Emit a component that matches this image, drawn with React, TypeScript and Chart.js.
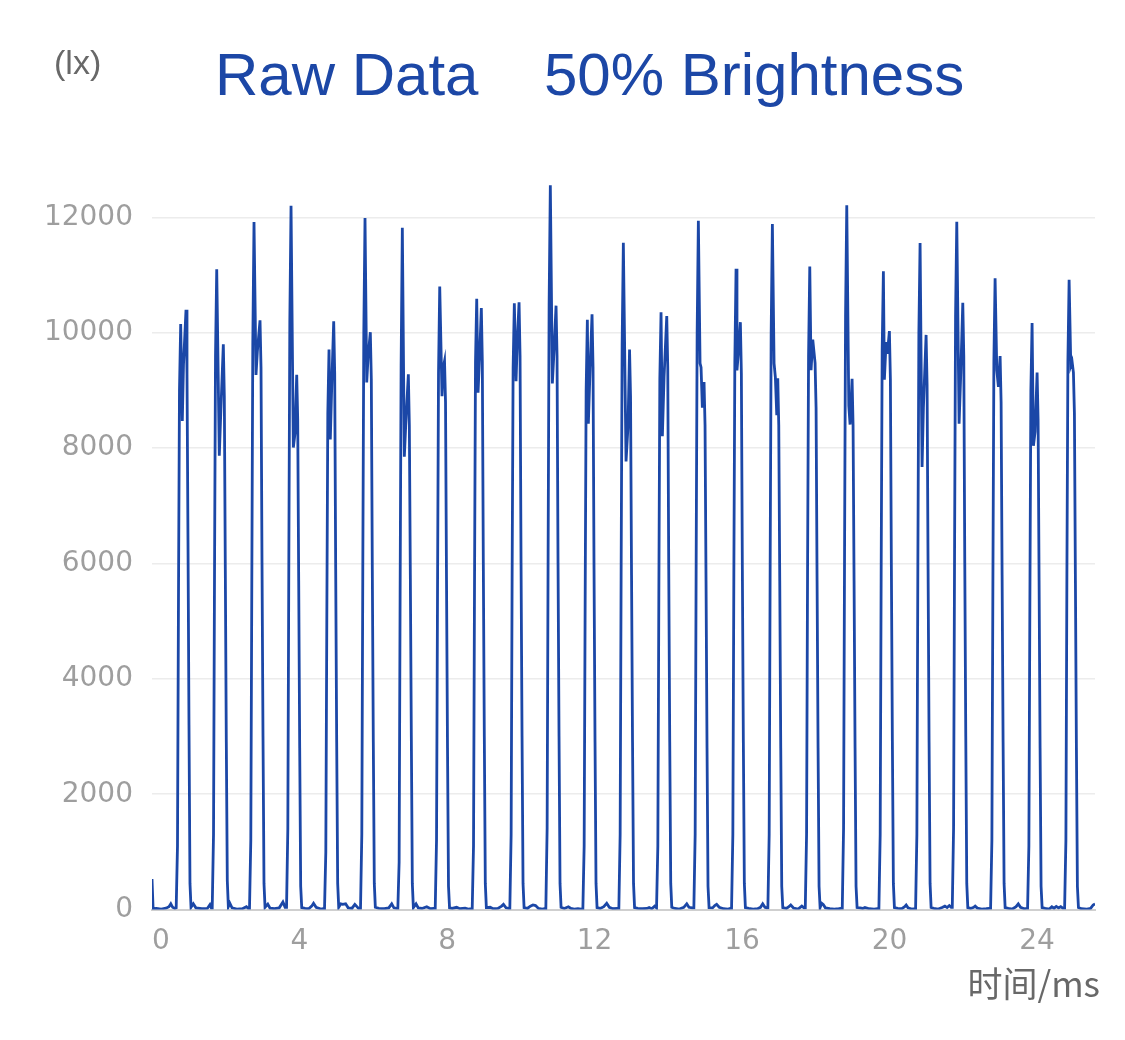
import { useEffect, useRef } from 'react';
import { Chart, registerables } from 'chart.js';

Chart.register(...registerables);

// ---- text ----
const titleLeft = 'Raw Data';
const titleRight = '50% Brightness';
const yAxisName = '(lx)';
const xAxisName = '时间/ms';

// ---- axis ticks ----
const xTickValues = [0, 4, 8, 12, 16, 20, 24];
const xMax = 25.57;
const yTickValues = [0, 2000, 4000, 6000, 8000, 10000, 12000];
const yMax = 12600;

// ---- series: time (ms) and illuminance (lx), one line per segment ----
const timeMs = [
  0, 0.03, 0.12, 0.25, 0.38, 0.46, 0.51, 0.56, 0.62,
  0.656, 0.691, 0.718, 0.745, 0.778, 0.822, 0.854, 0.922, 0.949, 0.976, 1.003, 1.030, 1.058,
  1.12, 1.19, 1.35, 1.5, 1.57, 1.61,
  1.633, 1.668, 1.695, 1.722, 1.755, 1.825, 1.863, 1.934, 1.961, 1.988, 2.015, 2.042, 2.070,
  2.11, 2.17, 2.3, 2.45, 2.56, 2.61,
  2.644, 2.679, 2.706, 2.733, 2.766, 2.820, 2.856, 2.929, 2.956, 2.983, 3.010, 3.037, 3.065,
  3.14, 3.2, 3.32, 3.45, 3.55, 3.61,
  3.648, 3.683, 3.710, 3.737, 3.770, 3.832, 3.878, 3.924, 3.951, 3.978, 4.005, 4.032, 4.060,
  4.15, 4.25, 4.33, 4.38, 4.45, 4.58, 4.64,
  4.678, 4.713, 4.740, 4.767, 4.800, 4.835, 4.873, 4.927, 4.954, 4.981, 5.008, 5.035, 5.063,
  5.12, 5.17, 5.25, 5.32, 5.42, 5.5, 5.6,
  5.654, 5.689, 5.716, 5.743, 5.776, 5.822, 5.858, 5.920, 5.947, 5.974, 6.001, 6.028, 6.056,
  6.15, 6.3, 6.42, 6.5, 6.56, 6.63,
  6.666, 6.701, 6.728, 6.755, 6.788, 6.842, 6.880, 6.951, 6.978, 7.005, 7.032, 7.059, 7.087,
  7.16, 7.22, 7.32, 7.45, 7.55, 7.64,
  7.680, 7.715, 7.742, 7.769, 7.802, 7.864, 7.897, 7.932, 7.959, 7.986, 8.013, 8.040, 8.068,
  8.14, 8.26, 8.35, 8.49, 8.58, 8.65,
  8.683, 8.718, 8.745, 8.772, 8.805, 8.841, 8.887, 8.930, 8.957, 8.984, 9.011, 9.038, 9.066,
  9.17, 9.25, 9.38, 9.48, 9.53, 9.6, 9.67,
  9.703, 9.738, 9.765, 9.792, 9.825, 9.871, 9.906, 9.953, 9.980, 10.007, 10.034, 10.061, 10.089,
  10.18, 10.26, 10.33, 10.4, 10.48, 10.58, 10.64,
  10.679, 10.714, 10.741, 10.768, 10.801, 10.856, 10.902, 10.956, 10.983, 11.010, 11.037, 11.064, 11.092,
  11.18, 11.29, 11.36, 11.45, 11.55, 11.64,
  11.683, 11.718, 11.745, 11.772, 11.805, 11.832, 11.878, 11.932, 11.959, 11.986, 12.013, 12.040, 12.068,
  12.15, 12.25, 12.33, 12.4, 12.5, 12.62,
  12.659, 12.694, 12.721, 12.748, 12.781, 12.854, 12.908, 12.949, 12.976, 13.003, 13.030, 13.057, 13.085,
  13.17, 13.3, 13.42, 13.48, 13.55, 13.63,
  13.681, 13.716, 13.743, 13.770, 13.803, 13.839, 13.885, 13.958, 13.985, 14.012, 14.039, 14.066, 14.094,
  14.18, 14.3, 14.42, 14.5, 14.56, 14.65,
  14.693, 14.728, 14.755, 14.782, 14.815, 14.861, 14.888, 14.923, 14.969, 14.996, 15.023, 15.050, 15.077, 15.105,
  15.2, 15.26, 15.31, 15.38, 15.5, 15.62, 15.68,
  15.715, 15.750, 15.777, 15.804, 15.837, 15.862, 15.905, 15.954, 15.981, 16.008, 16.035, 16.062, 16.090,
  16.18, 16.3, 16.42, 16.5, 16.56, 16.62, 16.67,
  16.700, 16.735, 16.762, 16.789, 16.822, 16.868, 16.903, 16.941, 16.968, 16.995, 17.022, 17.049, 17.076, 17.104,
  17.2, 17.27, 17.32, 17.4, 17.52, 17.62, 17.68,
  17.714, 17.749, 17.776, 17.803, 17.836, 17.871, 17.917, 17.980, 18.007, 18.034, 18.061, 18.088, 18.116,
  18.16, 18.2, 18.26, 18.38, 18.5, 18.62, 18.68,
  18.717, 18.752, 18.779, 18.806, 18.839, 18.894, 18.929, 18.983, 19.010, 19.037, 19.064, 19.091, 19.119,
  19.2, 19.27, 19.33, 19.45, 19.58, 19.67,
  19.710, 19.745, 19.772, 19.799, 19.832, 19.859, 19.905, 19.940, 19.995, 20.022, 20.049, 20.076, 20.103, 20.131,
  20.22, 20.33, 20.41, 20.45, 20.5, 20.6, 20.67,
  20.705, 20.740, 20.767, 20.794, 20.827, 20.881, 20.917, 20.990, 21.017, 21.044, 21.071, 21.098, 21.126,
  21.2, 21.32, 21.44, 21.5, 21.56, 21.62, 21.67,
  21.700, 21.735, 21.762, 21.789, 21.822, 21.885, 21.931, 21.985, 22.012, 22.039, 22.066, 22.093, 22.121,
  22.2, 22.28, 22.32, 22.38, 22.5, 22.62, 22.7,
  22.739, 22.774, 22.801, 22.828, 22.861, 22.907, 22.951, 22.997, 23.024, 23.051, 23.078, 23.105, 23.133,
  23.22, 23.33, 23.43, 23.49, 23.55, 23.65, 23.71,
  23.742, 23.777, 23.804, 23.831, 23.864, 23.900, 23.946, 24.000, 24.027, 24.054, 24.081, 24.108, 24.136,
  24.22, 24.33, 24.4, 24.46, 24.52, 24.58, 24.64, 24.7,
  24.746, 24.781, 24.808, 24.835, 24.868, 24.914, 24.949, 24.985, 25.012, 25.039, 25.066, 25.093, 25.121,
  25.2, 25.35, 25.45, 25.52, 25.57,
];

const lux = [
  530, 15, 20, 10, 25, 50, 100, 40, 20,
  30, 1100, 5400, 9000, 10150, 8470, 9450, 10400, 9300, 6400, 3200, 450, 40,
  100, 30, 15, 20, 85, 25,
  25, 1300, 5800, 9600, 11100, 7870, 8580, 9800, 8900, 5900, 2900, 500, 50,
  110, 30, 10, 15, 50, 20,
  20, 1200, 5600, 9800, 11920, 9270, 9670, 10215, 9400, 6000, 3000, 450, 40,
  95, 25, 15, 30, 130, 40,
  40, 1400, 6000, 10200, 12200, 8010, 8260, 9270, 8500, 5700, 2800, 400, 35,
  20, 15, 60, 110, 40, 10, 15,
  15, 1000, 5000, 8600, 9710, 8150, 9070, 10200, 9300, 5900, 2900, 450, 40,
  100, 90, 100, 30, 20, 90, 20,
  20, 1300, 5900, 10000, 11990, 9140, 9570, 10010, 9200, 5900, 2900, 450, 40,
  20, 15, 30, 100, 30, 20,
  20, 820, 5500, 9450, 11820, 7850, 8400, 9280, 8400, 5800, 3000, 450, 35,
  100, 30, 20, 50, 15, 20,
  20, 1200, 5500, 9300, 10800, 8900, 9400, 9510, 8800, 5700, 2800, 400, 30,
  20, 40, 15, 25, 10, 15,
  15, 1100, 5600, 9500, 10590, 8960, 9650, 10430, 9500, 6000, 3000, 450, 35,
  40, 15, 20, 60, 90, 30, 20,
  20, 1300, 5800, 9400, 10510, 9160, 9860, 10530, 9600, 6000, 3000, 450, 35,
  20, 60, 80, 70, 20, 10, 15,
  15, 1400, 6200, 10500, 12556, 9120, 9700, 10470, 9600, 6000, 3000, 450, 40,
  20, 50, 20, 10, 15, 10,
  10, 1100, 5300, 9000, 10225, 8425, 9370, 10320, 9400, 5900, 2900, 450, 35,
  20, 50, 110, 40, 15, 20,
  20, 1300, 5900, 9800, 11560, 7770, 8390, 9710, 8900, 5800, 2900, 450, 35,
  20, 15, 20, 35, 15, 60,
  30, 1100, 5400, 9200, 10356, 8205, 9230, 10290, 9400, 5900, 2900, 450, 40,
  20, 10, 40, 100, 40, 30,
  30, 1300, 6000, 10000, 11943, 9470, 9400, 8700, 9145, 8400, 5700, 2800, 400, 35,
  30, 70, 90, 40, 15, 10, 20,
  20, 1300, 5800, 9500, 11108, 9350, 9700, 10184, 9300, 5900, 2900, 450, 35,
  20, 10, 15, 40, 100, 40, 30,
  30, 1300, 6000, 10000, 11886, 9470, 9227, 8570, 9210, 8400, 5700, 2800, 400, 35,
  20, 50, 80, 25, 10, 60, 30,
  30, 1300, 5900, 9600, 11150, 9350, 9880, 9473, 8700, 5700, 2800, 400, 35,
  110, 90, 30, 15, 10, 15, 20,
  20, 1400, 6200, 10300, 12212, 8736, 8409, 9202, 8400, 5700, 2800, 400, 35,
  30, 20, 35, 15, 10, 15,
  15, 1300, 5900, 9700, 11068, 9186, 9840, 9636, 10030, 9200, 5900, 2900, 450, 35,
  20, 15, 50, 80, 30, 10, 15,
  15, 1300, 6000, 10000, 11558, 7673, 8695, 9963, 9100, 5900, 2900, 450, 35,
  20, 10, 40, 60, 35, 70, 40,
  40, 1400, 6200, 10300, 11926, 8425, 9310, 10520, 9600, 6000, 3000, 450, 35,
  20, 40, 60, 25, 10, 15, 20,
  20, 1200, 5600, 9500, 10945, 9350, 9063, 9595, 8800, 5800, 2900, 450, 35,
  20, 10, 50, 100, 40, 15, 20,
  20, 1100, 5300, 9000, 10168, 8041, 8286, 9309, 8500, 5700, 2800, 400, 35,
  20, 10, 50, 25, 55, 30, 50, 25,
  25, 1200, 5800, 9500, 10920, 9430, 9500, 9310, 8600, 5700, 2800, 400, 35,
  15, 10, 20, 80, 100,
];

const LINE_COLOR = '#1b47a7';
const TITLE_COLOR = '#1c47a6';
const TICK_COLOR = '#9e9e9e';
const NAME_COLOR = '#686868';
const TICK_FONT = { family: '"DejaVu Sans", sans-serif', size: 28 };

const textPlugin = {
  id: 'chartTexts',
  afterDraw(chart: any) {
    const ctx = chart.ctx as CanvasRenderingContext2D;
    ctx.save();
    ctx.textBaseline = 'alphabetic';
    ctx.textAlign = 'left';
    ctx.fillStyle = TITLE_COLOR;
    ctx.font = '60px "Liberation Sans", Arial, sans-serif';
    ctx.fillText(titleLeft, 207, 87);
    ctx.fillText(titleRight, 536, 87);
    ctx.fillStyle = NAME_COLOR;
    ctx.font = '34px "Liberation Sans", Arial, sans-serif';
    ctx.fillText(yAxisName, 46, 66);
    ctx.textAlign = 'right';
    ctx.font = '35px "Noto Sans CJK SC", sans-serif';
    ctx.fillText(xAxisName, 1092, 989);
    ctx.restore();
  },
};

export default function App() {
  const canvasRef = useRef<HTMLCanvasElement | null>(null);

  useEffect(() => {
    const canvas = canvasRef.current;
    if (!canvas) return;
    const n = Math.min(timeMs.length, lux.length);
    const points = [];
    for (let i = 0; i < n; i++) points.push({ x: timeMs[i], y: lux[i] });

    const chart = new Chart(canvas, {
      type: 'line',
      data: {
        datasets: [
          {
            data: points,
            borderColor: LINE_COLOR,
            borderWidth: 2.8,
            pointRadius: 0,
            tension: 0,
            fill: false,
          },
        ],
      },
      options: {
        animation: false,
        responsive: false,
        devicePixelRatio: 1,
        layout: { padding: { top: 174.8, right: 22, left: 0, bottom: 0 } },
        plugins: {
          legend: { display: false },
          title: { display: false },
          tooltip: { enabled: false },
        },
        scales: {
          x: {
            type: 'linear',
            min: 0,
            max: xMax,
            afterFit: (s: any) => {
              s.height = 122.4;
            },
            afterBuildTicks: (s: any) => {
              s.ticks = xTickValues.map((v) => ({ value: v }));
            },
            grid: { display: true, color: 'rgba(0,0,0,0)', drawTicks: false },
            border: { display: true, color: '#cfcfcf', width: 2 },
            ticks: {
              autoSkip: false,
              maxRotation: 0,
              padding: 15,
              color: TICK_COLOR,
              font: TICK_FONT,
              callback: (v: any) => (Number(v) === 0 ? '\u20070' : String(v)),
            },
          },
          y: {
            type: 'linear',
            min: 0,
            max: yMax,
            afterFit: (s: any) => {
              s.width = 144;
            },
            afterBuildTicks: (s: any) => {
              s.ticks = yTickValues.map((v) => ({ value: v }));
            },
            grid: { color: '#ececec', lineWidth: 1.5, drawTicks: false },
            border: { display: false },
            ticks: {
              autoSkip: false,
              padding: 19,
              color: TICK_COLOR,
              font: TICK_FONT,
              callback: (v: any) => String(v),
            },
          },
        },
      },
      plugins: [textPlugin],
    });
    return () => chart.destroy();
  }, []);

  return (
    <div style={{ width: 1109, height: 1024 }}>
      <canvas ref={canvasRef} width={1109} height={1024} style={{ display: 'block' }} />
    </div>
  );
}
